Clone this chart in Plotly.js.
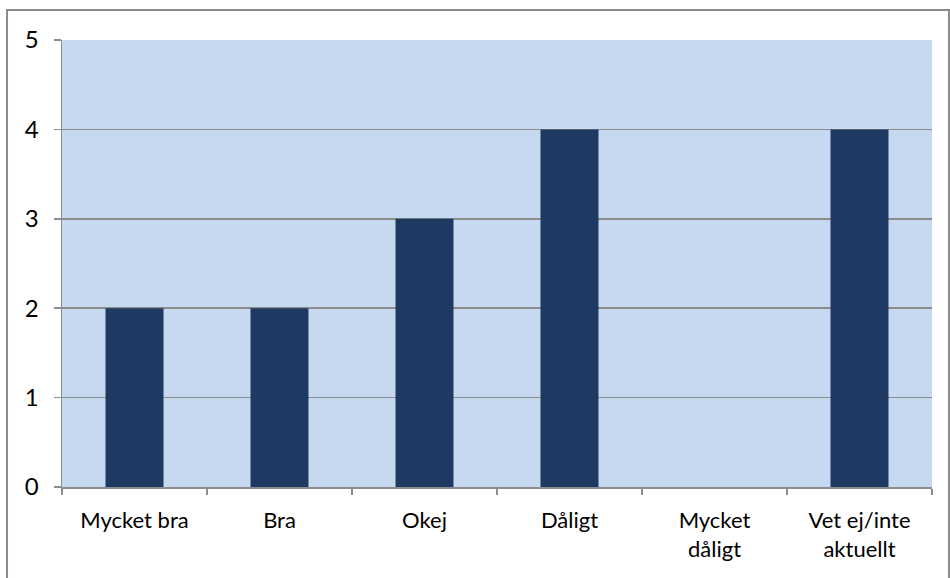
<!DOCTYPE html>
<html>
<head>
<meta charset="utf-8">
<script src="https://cdn.plot.ly/plotly-3.0.1.min.js"></script>
<style>
html,body{margin:0;padding:0;background:#fff;}
#chart{width:950px;height:578px;}
</style>
</head>
<body>
<div id="chart"></div>
<script>
const categories = ["Mycket bra", "Bra", "Okej", "Dåligt", "Mycket<br>dåligt", "Vet ej/inte<br>aktuellt"];
const values = [2, 2, 3, 4, 0, 4];
const yTicks = [0, 1, 2, 3, 4, 5];

const trace = {
  type: "bar",
  x: categories,
  y: values,
  width: 0.4,
  marker: {color: "#1E3A62", line: {color: "#162C4C", width: 0}},
  hoverinfo: "none"
};

const layout = {
  width: 950,
  height: 578,
  margin: {l: 62, r: 18, t: 40, b: 91},
  paper_bgcolor: "#ffffff",
  plot_bgcolor: "#C6D9F1",
  showlegend: false,
  font: {family: "Lato, 'Open Sans', sans-serif", size: 22, color: "#000"},
  xaxis: {
    type: "category",
    tickson: "boundaries",
    ticks: "outside",
    ticklen: 6,
    tickwidth: 1.5,
    tickcolor: "#8C8C8C",
    showline: true,
    linecolor: "#8C8C8C",
    linewidth: 1.5,
    showgrid: false,
    ticklabelstandoff: 13,
    tickfont: {size: 22},
    fixedrange: true
  },
  yaxis: {
    range: [0, 5],
    tickvals: yTicks,
    ticktext: yTicks.map(String),
    ticks: "outside",
    ticklen: 7,
    tickwidth: 1.5,
    tickcolor: "#8C8C8C",
    showline: true,
    linecolor: "#8C8C8C",
    linewidth: 1.5,
    showgrid: true,
    gridcolor: "#8C8C8C",
    gridwidth: 1.5,
    zeroline: false,
    ticklabelstandoff: 10,
    tickfont: {size: 24},
    fixedrange: true
  },
  shapes: [
    {type: "rect", xref: "paper", yref: "paper",
     x0: -0.0632, x1: 1.0195, y0: -0.25, y1: 1.0671,
     line: {color: "#8C8C8C", width: 2}, fillcolor: "rgba(0,0,0,0)", layer: "below"}
  ]
};

Plotly.newPlot("chart", [trace], layout, {displayModeBar: false, staticPlot: true});
</script>
</body>
</html>
